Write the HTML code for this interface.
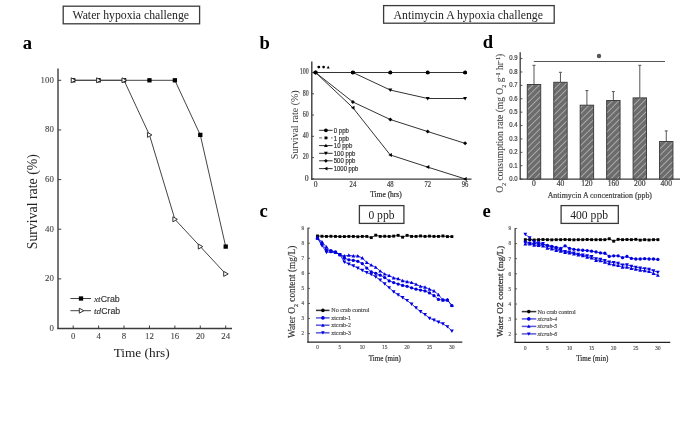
<!DOCTYPE html>
<html><head><meta charset="utf-8"><style>
html,body{margin:0;padding:0;background:#fff;}
body{width:685px;height:426px;overflow:hidden;font-family:"Liberation Serif",serif;}
svg{display:block;will-change:transform;}
</style></head><body>
<svg width="685" height="426" viewBox="0 0 685 426">
<rect width="685" height="426" fill="#fff"/>
<rect x="63.2" y="6.2" width="136.4" height="17.6" fill="#fff" stroke="#3a3a3a" stroke-width="1.3"/>
<text x="72.5" y="18.7" font-family="Liberation Serif" font-size="11.75" font-weight="normal" font-style="normal" text-anchor="start" fill="#222" textLength="116.5" lengthAdjust="spacingAndGlyphs">Water hypoxia challenge</text>
<rect x="383.6" y="5.6" width="170.6" height="17.6" fill="#fff" stroke="#3a3a3a" stroke-width="1.3"/>
<text x="393.5" y="19" font-family="Liberation Serif" font-size="11.75" font-weight="normal" font-style="normal" text-anchor="start" fill="#222" textLength="149.5" lengthAdjust="spacingAndGlyphs">Antimycin A hypoxia challenge</text>
<text x="22.8" y="49" font-family="Liberation Serif" font-size="18.6" font-weight="bold" font-style="normal" text-anchor="start" fill="#000">a</text>
<text x="259.6" y="48.8" font-family="Liberation Serif" font-size="18.6" font-weight="bold" font-style="normal" text-anchor="start" fill="#000">b</text>
<text x="259.6" y="217.3" font-family="Liberation Serif" font-size="18.6" font-weight="bold" font-style="normal" text-anchor="start" fill="#000">c</text>
<text x="482.8" y="48.2" font-family="Liberation Serif" font-size="18.6" font-weight="bold" font-style="normal" text-anchor="start" fill="#000">d</text>
<text x="482.6" y="216.5" font-family="Liberation Serif" font-size="18.6" font-weight="bold" font-style="normal" text-anchor="start" fill="#000">e</text>
<line x1="58" y1="68.5" x2="58" y2="329" stroke="#3c3c3c" stroke-width="1.4"/>
<line x1="57.3" y1="328.5" x2="232" y2="328.5" stroke="#3c3c3c" stroke-width="1.4"/>
<line x1="58" y1="328.5" x2="61.2" y2="328.5" stroke="#3c3c3c" stroke-width="1"/>
<text x="53.8" y="330.8" font-family="Liberation Serif" font-size="8.8" font-weight="normal" font-style="normal" text-anchor="end" fill="#444" stroke="#444" stroke-width="0.1">0</text>
<line x1="58" y1="278.86" x2="61.2" y2="278.86" stroke="#3c3c3c" stroke-width="1"/>
<text x="53.8" y="281.16" font-family="Liberation Serif" font-size="8.8" font-weight="normal" font-style="normal" text-anchor="end" fill="#444" stroke="#444" stroke-width="0.1">20</text>
<line x1="58" y1="229.22" x2="61.2" y2="229.22" stroke="#3c3c3c" stroke-width="1"/>
<text x="53.8" y="231.52" font-family="Liberation Serif" font-size="8.8" font-weight="normal" font-style="normal" text-anchor="end" fill="#444" stroke="#444" stroke-width="0.1">40</text>
<line x1="58" y1="179.58" x2="61.2" y2="179.58" stroke="#3c3c3c" stroke-width="1"/>
<text x="53.8" y="181.88" font-family="Liberation Serif" font-size="8.8" font-weight="normal" font-style="normal" text-anchor="end" fill="#444" stroke="#444" stroke-width="0.1">60</text>
<line x1="58" y1="129.94" x2="61.2" y2="129.94" stroke="#3c3c3c" stroke-width="1"/>
<text x="53.8" y="132.24" font-family="Liberation Serif" font-size="8.8" font-weight="normal" font-style="normal" text-anchor="end" fill="#444" stroke="#444" stroke-width="0.1">80</text>
<line x1="58" y1="80.3" x2="61.2" y2="80.3" stroke="#3c3c3c" stroke-width="1"/>
<text x="53.8" y="82.6" font-family="Liberation Serif" font-size="8.8" font-weight="normal" font-style="normal" text-anchor="end" fill="#444" stroke="#444" stroke-width="0.1">100</text>
<line x1="73.2" y1="328.5" x2="73.2" y2="325.5" stroke="#3c3c3c" stroke-width="1"/>
<text x="73.2" y="339.1" font-family="Liberation Serif" font-size="8.8" font-weight="normal" font-style="normal" text-anchor="middle" fill="#444" stroke="#444" stroke-width="0.1">0</text>
<line x1="98.62" y1="328.5" x2="98.62" y2="325.5" stroke="#3c3c3c" stroke-width="1"/>
<text x="98.62" y="339.1" font-family="Liberation Serif" font-size="8.8" font-weight="normal" font-style="normal" text-anchor="middle" fill="#444" stroke="#444" stroke-width="0.1">4</text>
<line x1="124.03" y1="328.5" x2="124.03" y2="325.5" stroke="#3c3c3c" stroke-width="1"/>
<text x="124.03" y="339.1" font-family="Liberation Serif" font-size="8.8" font-weight="normal" font-style="normal" text-anchor="middle" fill="#444" stroke="#444" stroke-width="0.1">8</text>
<line x1="149.45" y1="328.5" x2="149.45" y2="325.5" stroke="#3c3c3c" stroke-width="1"/>
<text x="149.45" y="339.1" font-family="Liberation Serif" font-size="8.8" font-weight="normal" font-style="normal" text-anchor="middle" fill="#444" stroke="#444" stroke-width="0.1">12</text>
<line x1="174.86" y1="328.5" x2="174.86" y2="325.5" stroke="#3c3c3c" stroke-width="1"/>
<text x="174.86" y="339.1" font-family="Liberation Serif" font-size="8.8" font-weight="normal" font-style="normal" text-anchor="middle" fill="#444" stroke="#444" stroke-width="0.1">16</text>
<line x1="200.28" y1="328.5" x2="200.28" y2="325.5" stroke="#3c3c3c" stroke-width="1"/>
<text x="200.28" y="339.1" font-family="Liberation Serif" font-size="8.8" font-weight="normal" font-style="normal" text-anchor="middle" fill="#444" stroke="#444" stroke-width="0.1">20</text>
<line x1="225.7" y1="328.5" x2="225.7" y2="325.5" stroke="#3c3c3c" stroke-width="1"/>
<text x="225.7" y="339.1" font-family="Liberation Serif" font-size="8.8" font-weight="normal" font-style="normal" text-anchor="middle" fill="#444" stroke="#444" stroke-width="0.1">24</text>
<text x="113.7" y="357" font-family="Liberation Serif" font-size="13.3" font-weight="normal" font-style="normal" text-anchor="start" fill="#222" textLength="56" lengthAdjust="spacingAndGlyphs">Time (hrs)</text>
<text x="0" y="0" font-family="Liberation Serif" font-size="13.8" font-weight="normal" font-style="normal" text-anchor="middle" fill="#222" transform="translate(36.5,201.7) rotate(-90)">Survival rate (%)</text>
<polyline points="73.2,80.3 98.62,80.3 124.03,80.3 149.45,80.3 174.86,80.3 200.28,134.9 225.7,246.59" fill="none" stroke="#444" stroke-width="1" stroke-linejoin="round"/>
<polyline points="73.2,80.3 98.62,80.3 124.03,80.3 149.45,134.9 174.86,219.29 200.28,246.59 225.7,273.9" fill="none" stroke="#444" stroke-width="1" stroke-linejoin="round"/>
<rect x="71.05" y="78.15" width="4.3" height="4.3" fill="#000" stroke="none" stroke-width="1"/>
<rect x="96.47" y="78.15" width="4.3" height="4.3" fill="#000" stroke="none" stroke-width="1"/>
<rect x="121.88" y="78.15" width="4.3" height="4.3" fill="#000" stroke="none" stroke-width="1"/>
<rect x="147.3" y="78.15" width="4.3" height="4.3" fill="#000" stroke="none" stroke-width="1"/>
<rect x="172.71" y="78.15" width="4.3" height="4.3" fill="#000" stroke="none" stroke-width="1"/>
<rect x="198.13" y="132.75" width="4.3" height="4.3" fill="#000" stroke="none" stroke-width="1"/>
<rect x="223.55" y="244.44" width="4.3" height="4.3" fill="#000" stroke="none" stroke-width="1"/>
<polygon points="75.7,80.3 71.2,77.8 71.2,82.8" fill="#fff" stroke="#333" stroke-width="1" stroke-linejoin="miter"/>
<polygon points="101.12,80.3 96.62,77.8 96.62,82.8" fill="#fff" stroke="#333" stroke-width="1" stroke-linejoin="miter"/>
<polygon points="126.53,80.3 122.03,77.8 122.03,82.8" fill="#fff" stroke="#333" stroke-width="1" stroke-linejoin="miter"/>
<polygon points="151.95,134.9 147.45,132.4 147.45,137.4" fill="#fff" stroke="#333" stroke-width="1" stroke-linejoin="miter"/>
<polygon points="177.36,219.29 172.86,216.79 172.86,221.79" fill="#fff" stroke="#333" stroke-width="1" stroke-linejoin="miter"/>
<polygon points="202.78,246.59 198.28,244.09 198.28,249.09" fill="#fff" stroke="#333" stroke-width="1" stroke-linejoin="miter"/>
<polygon points="228.2,273.9 223.7,271.4 223.7,276.4" fill="#fff" stroke="#333" stroke-width="1" stroke-linejoin="miter"/>
<line x1="70.4" y1="298.5" x2="91" y2="298.5" stroke="#444" stroke-width="1"/>
<rect x="78.85" y="296.35" width="4.3" height="4.3" fill="#000" stroke="none" stroke-width="1"/>
<text x="94" y="301.6" font-family="Liberation Sans" font-size="8.8" fill="#333" stroke="#333" stroke-width="0.15"><tspan font-family="Liberation Serif" font-style="italic" font-size="9.2">xt</tspan>Crab</text>
<line x1="70.4" y1="310.7" x2="91" y2="310.7" stroke="#444" stroke-width="1"/>
<polygon points="83.8,310.7 79.3,308.2 79.3,313.2" fill="#fff" stroke="#333" stroke-width="1" stroke-linejoin="miter"/>
<text x="94" y="313.8" font-family="Liberation Sans" font-size="8.8" fill="#333" stroke="#333" stroke-width="0.15"><tspan font-family="Liberation Serif" font-style="italic" font-size="9.2">td</tspan>Crab</text>
<line x1="311.8" y1="61.6" x2="311.8" y2="179.8" stroke="#3c3c3c" stroke-width="1.4"/>
<line x1="311.1" y1="179.2" x2="471.5" y2="179.2" stroke="#3c3c3c" stroke-width="1.2"/>
<line x1="311.8" y1="178.9" x2="314" y2="178.9" stroke="#3c3c3c" stroke-width="0.9"/>
<text x="308.6" y="180.75" font-family="Liberation Serif" font-size="7.7" font-weight="normal" font-style="normal" text-anchor="end" fill="#444" stroke="#444" stroke-width="0.22">0</text>
<line x1="311.8" y1="157.62" x2="314" y2="157.62" stroke="#3c3c3c" stroke-width="0.9"/>
<text x="308.6" y="159.47" font-family="Liberation Serif" font-size="7.7" font-weight="normal" font-style="normal" text-anchor="end" fill="#444" stroke="#444" stroke-width="0.22" textLength="5.94" lengthAdjust="spacingAndGlyphs">20</text>
<line x1="311.8" y1="136.34" x2="314" y2="136.34" stroke="#3c3c3c" stroke-width="0.9"/>
<text x="308.6" y="138.19" font-family="Liberation Serif" font-size="7.7" font-weight="normal" font-style="normal" text-anchor="end" fill="#444" stroke="#444" stroke-width="0.22" textLength="5.94" lengthAdjust="spacingAndGlyphs">40</text>
<line x1="311.8" y1="115.06" x2="314" y2="115.06" stroke="#3c3c3c" stroke-width="0.9"/>
<text x="308.6" y="116.91" font-family="Liberation Serif" font-size="7.7" font-weight="normal" font-style="normal" text-anchor="end" fill="#444" stroke="#444" stroke-width="0.22" textLength="5.94" lengthAdjust="spacingAndGlyphs">60</text>
<line x1="311.8" y1="93.78" x2="314" y2="93.78" stroke="#3c3c3c" stroke-width="0.9"/>
<text x="308.6" y="95.63" font-family="Liberation Serif" font-size="7.7" font-weight="normal" font-style="normal" text-anchor="end" fill="#444" stroke="#444" stroke-width="0.22" textLength="5.94" lengthAdjust="spacingAndGlyphs">80</text>
<line x1="311.8" y1="72.5" x2="314" y2="72.5" stroke="#3c3c3c" stroke-width="0.9"/>
<text x="308.6" y="74.35" font-family="Liberation Serif" font-size="7.7" font-weight="normal" font-style="normal" text-anchor="end" fill="#444" stroke="#444" stroke-width="0.22" textLength="8.91" lengthAdjust="spacingAndGlyphs">100</text>
<text x="315.5" y="186.7" font-family="Liberation Serif" font-size="7.5" font-weight="normal" font-style="normal" text-anchor="middle" fill="#444" stroke="#444" stroke-width="0.22">0</text>
<text x="352.9" y="186.7" font-family="Liberation Serif" font-size="7.5" font-weight="normal" font-style="normal" text-anchor="middle" fill="#444" stroke="#444" stroke-width="0.22" textLength="6.6" lengthAdjust="spacingAndGlyphs">24</text>
<text x="390.3" y="186.7" font-family="Liberation Serif" font-size="7.5" font-weight="normal" font-style="normal" text-anchor="middle" fill="#444" stroke="#444" stroke-width="0.22" textLength="6.6" lengthAdjust="spacingAndGlyphs">48</text>
<text x="427.7" y="186.7" font-family="Liberation Serif" font-size="7.5" font-weight="normal" font-style="normal" text-anchor="middle" fill="#444" stroke="#444" stroke-width="0.22" textLength="6.6" lengthAdjust="spacingAndGlyphs">72</text>
<text x="465.1" y="186.7" font-family="Liberation Serif" font-size="7.5" font-weight="normal" font-style="normal" text-anchor="middle" fill="#444" stroke="#444" stroke-width="0.22" textLength="6.6" lengthAdjust="spacingAndGlyphs">96</text>
<text x="370.2" y="196.8" font-family="Liberation Serif" font-size="7.5" font-weight="normal" font-style="normal" text-anchor="start" fill="#333" stroke="#333" stroke-width="0.22">Time (hrs)</text>
<text x="0" y="0" font-family="Liberation Serif" font-size="10" font-weight="normal" font-style="normal" text-anchor="middle" fill="#333" transform="translate(297.6,124.8) rotate(-90)">Survival rate (%)</text>
<line x1="315.5" y1="72.5" x2="352.9" y2="72.5" stroke="#333" stroke-width="1" stroke-linecap="round"/>
<line x1="352.9" y1="72.5" x2="390.3" y2="72.5" stroke="#333" stroke-width="1" stroke-linecap="round"/>
<line x1="390.3" y1="72.5" x2="427.7" y2="72.5" stroke="#333" stroke-width="1" stroke-linecap="round"/>
<line x1="427.7" y1="72.5" x2="465.1" y2="72.5" stroke="#333" stroke-width="1" stroke-linecap="round"/>
<line x1="352.9" y1="72.5" x2="390.3" y2="90.06" stroke="#333" stroke-width="1" stroke-linecap="round"/>
<line x1="390.3" y1="90.06" x2="427.7" y2="98.5" stroke="#333" stroke-width="1" stroke-linecap="round"/>
<line x1="427.7" y1="98.5" x2="465.1" y2="98.5" stroke="#333" stroke-width="1" stroke-linecap="round"/>
<line x1="315.5" y1="72.5" x2="352.9" y2="101.97" stroke="#333" stroke-width="1" stroke-linecap="round"/>
<line x1="352.9" y1="101.97" x2="390.3" y2="119.53" stroke="#333" stroke-width="1" stroke-linecap="round"/>
<line x1="390.3" y1="119.53" x2="427.7" y2="131.55" stroke="#333" stroke-width="1" stroke-linecap="round"/>
<line x1="427.7" y1="131.55" x2="465.1" y2="143.36" stroke="#333" stroke-width="1" stroke-linecap="round"/>
<line x1="315.5" y1="72.5" x2="352.9" y2="107.72" stroke="#333" stroke-width="1" stroke-linecap="round"/>
<line x1="352.9" y1="107.72" x2="390.3" y2="154.96" stroke="#333" stroke-width="1" stroke-linecap="round"/>
<line x1="390.3" y1="154.96" x2="427.7" y2="167.09" stroke="#333" stroke-width="1" stroke-linecap="round"/>
<line x1="427.7" y1="167.09" x2="465.1" y2="178.9" stroke="#333" stroke-width="1" stroke-linecap="round"/>
<circle cx="315.5" cy="72.5" r="1.95" fill="#000" stroke="none" stroke-width="1"/>
<circle cx="352.9" cy="72.5" r="1.95" fill="#000" stroke="none" stroke-width="1"/>
<circle cx="390.3" cy="72.5" r="1.95" fill="#000" stroke="none" stroke-width="1"/>
<circle cx="427.7" cy="72.5" r="1.95" fill="#000" stroke="none" stroke-width="1"/>
<circle cx="465.1" cy="72.5" r="1.95" fill="#000" stroke="none" stroke-width="1"/>
<rect x="314.2" y="71.2" width="2.6" height="2.6" fill="#000" stroke="none" stroke-width="1"/>
<rect x="351.6" y="71.2" width="2.6" height="2.6" fill="#000" stroke="none" stroke-width="1"/>
<rect x="389" y="71.2" width="2.6" height="2.6" fill="#000" stroke="none" stroke-width="1"/>
<rect x="426.4" y="71.2" width="2.6" height="2.6" fill="#000" stroke="none" stroke-width="1"/>
<rect x="463.8" y="71.2" width="2.6" height="2.6" fill="#000" stroke="none" stroke-width="1"/>
<polygon points="315.5,70.5 317.5,74.1 313.5,74.1" fill="#000" stroke="none" stroke-width="1" stroke-linejoin="miter"/>
<polygon points="352.9,70.5 354.9,74.1 350.9,74.1" fill="#000" stroke="none" stroke-width="1" stroke-linejoin="miter"/>
<polygon points="390.3,70.5 392.3,74.1 388.3,74.1" fill="#000" stroke="none" stroke-width="1" stroke-linejoin="miter"/>
<polygon points="427.7,70.5 429.7,74.1 425.7,74.1" fill="#000" stroke="none" stroke-width="1" stroke-linejoin="miter"/>
<polygon points="465.1,70.5 467.1,74.1 463.1,74.1" fill="#000" stroke="none" stroke-width="1" stroke-linejoin="miter"/>
<polygon points="315.5,74.5 317.5,70.9 313.5,70.9" fill="#000" stroke="none" stroke-width="1" stroke-linejoin="miter"/>
<polygon points="352.9,74.5 354.9,70.9 350.9,70.9" fill="#000" stroke="none" stroke-width="1" stroke-linejoin="miter"/>
<polygon points="390.3,92.06 392.3,88.46 388.3,88.46" fill="#000" stroke="none" stroke-width="1" stroke-linejoin="miter"/>
<polygon points="427.7,100.5 429.7,96.9 425.7,96.9" fill="#000" stroke="none" stroke-width="1" stroke-linejoin="miter"/>
<polygon points="465.1,100.5 467.1,96.9 463.1,96.9" fill="#000" stroke="none" stroke-width="1" stroke-linejoin="miter"/>
<polygon points="315.5,70.5 317.5,72.5 315.5,74.5 313.5,72.5" fill="#000" stroke="none" stroke-width="1" stroke-linejoin="miter"/>
<polygon points="352.9,99.97 354.9,101.97 352.9,103.97 350.9,101.97" fill="#000" stroke="none" stroke-width="1" stroke-linejoin="miter"/>
<polygon points="390.3,117.53 392.3,119.53 390.3,121.53 388.3,119.53" fill="#000" stroke="none" stroke-width="1" stroke-linejoin="miter"/>
<polygon points="427.7,129.55 429.7,131.55 427.7,133.55 425.7,131.55" fill="#000" stroke="none" stroke-width="1" stroke-linejoin="miter"/>
<polygon points="465.1,141.36 467.1,143.36 465.1,145.36 463.1,143.36" fill="#000" stroke="none" stroke-width="1" stroke-linejoin="miter"/>
<polygon points="313.5,72.5 317.1,70.5 317.1,74.5" fill="#000" stroke="none" stroke-width="1" stroke-linejoin="miter"/>
<polygon points="350.9,107.72 354.5,105.72 354.5,109.72" fill="#000" stroke="none" stroke-width="1" stroke-linejoin="miter"/>
<polygon points="388.3,154.96 391.9,152.96 391.9,156.96" fill="#000" stroke="none" stroke-width="1" stroke-linejoin="miter"/>
<polygon points="425.7,167.09 429.3,165.09 429.3,169.09" fill="#000" stroke="none" stroke-width="1" stroke-linejoin="miter"/>
<polygon points="463.1,178.9 466.7,176.9 466.7,180.9" fill="#000" stroke="none" stroke-width="1" stroke-linejoin="miter"/>
<circle cx="318.8" cy="67.1" r="1.45" fill="#000" stroke="none" stroke-width="1"/>
<circle cx="323.6" cy="67.1" r="1.35" fill="#000" stroke="none" stroke-width="1"/>
<polygon points="328.2,65.7 329.7,68.4 326.7,68.4" fill="#000" stroke="none" stroke-width="1" stroke-linejoin="miter"/>
<line x1="319.1" y1="130.3" x2="332.6" y2="130.3" stroke="#333" stroke-width="1"/>
<circle cx="325.9" cy="130.3" r="1.9" fill="#000" stroke="none" stroke-width="1"/>
<text x="333.8" y="132.9" font-family="Liberation Sans" font-size="7.3" font-weight="normal" font-style="normal" text-anchor="start" fill="#333" stroke="#333" stroke-width="0.22" textLength="15.2" lengthAdjust="spacingAndGlyphs">0 ppb</text>
<line x1="319.1" y1="137.9" x2="332.6" y2="137.9" stroke="#444" stroke-width="0.8" stroke-dasharray="3,3"/>
<rect x="324.5" y="136.5" width="2.8" height="2.8" fill="#000" stroke="none" stroke-width="1"/>
<text x="333.8" y="140.5" font-family="Liberation Sans" font-size="7.3" font-weight="normal" font-style="normal" text-anchor="start" fill="#333" stroke="#333" stroke-width="0.22" textLength="15.2" lengthAdjust="spacingAndGlyphs">1 ppb</text>
<line x1="319.1" y1="145.6" x2="332.6" y2="145.6" stroke="#333" stroke-width="1"/>
<polygon points="325.9,143.7 327.8,147.12 324,147.12" fill="#000" stroke="none" stroke-width="1" stroke-linejoin="miter"/>
<text x="333.8" y="148.2" font-family="Liberation Sans" font-size="7.3" font-weight="normal" font-style="normal" text-anchor="start" fill="#333" stroke="#333" stroke-width="0.22" textLength="18.5" lengthAdjust="spacingAndGlyphs">10 ppb</text>
<line x1="319.1" y1="153.3" x2="332.6" y2="153.3" stroke="#333" stroke-width="1"/>
<polygon points="325.9,155.2 327.8,151.78 324,151.78" fill="#000" stroke="none" stroke-width="1" stroke-linejoin="miter"/>
<text x="333.8" y="155.9" font-family="Liberation Sans" font-size="7.3" font-weight="normal" font-style="normal" text-anchor="start" fill="#333" stroke="#333" stroke-width="0.22" textLength="21.6" lengthAdjust="spacingAndGlyphs">100 ppb</text>
<line x1="319.1" y1="160.8" x2="332.6" y2="160.8" stroke="#333" stroke-width="1"/>
<polygon points="325.9,158.9 327.8,160.8 325.9,162.7 324,160.8" fill="#000" stroke="none" stroke-width="1" stroke-linejoin="miter"/>
<text x="333.8" y="163.4" font-family="Liberation Sans" font-size="7.3" font-weight="normal" font-style="normal" text-anchor="start" fill="#333" stroke="#333" stroke-width="0.22" textLength="21.6" lengthAdjust="spacingAndGlyphs">500 ppb</text>
<line x1="319.1" y1="168.6" x2="332.6" y2="168.6" stroke="#333" stroke-width="1"/>
<polygon points="324,168.6 327.42,166.7 327.42,170.5" fill="#000" stroke="none" stroke-width="1" stroke-linejoin="miter"/>
<text x="333.8" y="171.2" font-family="Liberation Sans" font-size="7.3" font-weight="normal" font-style="normal" text-anchor="start" fill="#333" stroke="#333" stroke-width="0.22" textLength="24.6" lengthAdjust="spacingAndGlyphs">1000 ppb</text>
<line x1="520.2" y1="52.2" x2="520.2" y2="179.6" stroke="#3c3c3c" stroke-width="1.3"/>
<line x1="519.6" y1="179.1" x2="680" y2="179.1" stroke="#3c3c3c" stroke-width="1.3"/>
<line x1="520.2" y1="179.1" x2="522.4" y2="179.1" stroke="#3c3c3c" stroke-width="0.9"/>
<text x="517.6" y="181" font-family="Liberation Sans" font-size="7" font-weight="normal" font-style="normal" text-anchor="end" fill="#444" stroke="#444" stroke-width="0.22" textLength="8.3" lengthAdjust="spacingAndGlyphs">0.0</text>
<line x1="520.2" y1="165.71" x2="522.4" y2="165.71" stroke="#3c3c3c" stroke-width="0.9"/>
<text x="517.6" y="167.61" font-family="Liberation Sans" font-size="7" font-weight="normal" font-style="normal" text-anchor="end" fill="#444" stroke="#444" stroke-width="0.22" textLength="8.3" lengthAdjust="spacingAndGlyphs">0.1</text>
<line x1="520.2" y1="152.32" x2="522.4" y2="152.32" stroke="#3c3c3c" stroke-width="0.9"/>
<text x="517.6" y="154.22" font-family="Liberation Sans" font-size="7" font-weight="normal" font-style="normal" text-anchor="end" fill="#444" stroke="#444" stroke-width="0.22" textLength="8.3" lengthAdjust="spacingAndGlyphs">0.2</text>
<line x1="520.2" y1="138.93" x2="522.4" y2="138.93" stroke="#3c3c3c" stroke-width="0.9"/>
<text x="517.6" y="140.83" font-family="Liberation Sans" font-size="7" font-weight="normal" font-style="normal" text-anchor="end" fill="#444" stroke="#444" stroke-width="0.22" textLength="8.3" lengthAdjust="spacingAndGlyphs">0.3</text>
<line x1="520.2" y1="125.54" x2="522.4" y2="125.54" stroke="#3c3c3c" stroke-width="0.9"/>
<text x="517.6" y="127.44" font-family="Liberation Sans" font-size="7" font-weight="normal" font-style="normal" text-anchor="end" fill="#444" stroke="#444" stroke-width="0.22" textLength="8.3" lengthAdjust="spacingAndGlyphs">0.4</text>
<line x1="520.2" y1="112.15" x2="522.4" y2="112.15" stroke="#3c3c3c" stroke-width="0.9"/>
<text x="517.6" y="114.05" font-family="Liberation Sans" font-size="7" font-weight="normal" font-style="normal" text-anchor="end" fill="#444" stroke="#444" stroke-width="0.22" textLength="8.3" lengthAdjust="spacingAndGlyphs">0.5</text>
<line x1="520.2" y1="98.76" x2="522.4" y2="98.76" stroke="#3c3c3c" stroke-width="0.9"/>
<text x="517.6" y="100.66" font-family="Liberation Sans" font-size="7" font-weight="normal" font-style="normal" text-anchor="end" fill="#444" stroke="#444" stroke-width="0.22" textLength="8.3" lengthAdjust="spacingAndGlyphs">0.6</text>
<line x1="520.2" y1="85.37" x2="522.4" y2="85.37" stroke="#3c3c3c" stroke-width="0.9"/>
<text x="517.6" y="87.27" font-family="Liberation Sans" font-size="7" font-weight="normal" font-style="normal" text-anchor="end" fill="#444" stroke="#444" stroke-width="0.22" textLength="8.3" lengthAdjust="spacingAndGlyphs">0.7</text>
<line x1="520.2" y1="71.98" x2="522.4" y2="71.98" stroke="#3c3c3c" stroke-width="0.9"/>
<text x="517.6" y="73.88" font-family="Liberation Sans" font-size="7" font-weight="normal" font-style="normal" text-anchor="end" fill="#444" stroke="#444" stroke-width="0.22" textLength="8.3" lengthAdjust="spacingAndGlyphs">0.8</text>
<line x1="520.2" y1="58.59" x2="522.4" y2="58.59" stroke="#3c3c3c" stroke-width="0.9"/>
<text x="517.6" y="60.49" font-family="Liberation Sans" font-size="7" font-weight="normal" font-style="normal" text-anchor="end" fill="#444" stroke="#444" stroke-width="0.22" textLength="8.3" lengthAdjust="spacingAndGlyphs">0.9</text>
<defs><pattern id="hatch" patternUnits="userSpaceOnUse" width="4.5" height="4.5" patternTransform="rotate(45)"><rect width="4.5" height="4.5" fill="#6c6c6c"/><line x1="0" y1="0" x2="0" y2="4.5" stroke="#dcdcdc" stroke-width="1.05"/></pattern></defs>
<line x1="534" y1="84.5" x2="534" y2="65.3" stroke="#555" stroke-width="1"/>
<line x1="532.5" y1="65.3" x2="535.5" y2="65.3" stroke="#555" stroke-width="1"/>
<rect x="527.3" y="84.5" width="13.4" height="94.6" fill="url(#hatch)" stroke="#404040" stroke-width="1"/>
<text x="534" y="186.4" font-family="Liberation Serif" font-size="7.6" font-weight="normal" font-style="normal" text-anchor="middle" fill="#444" stroke="#444" stroke-width="0.22">0</text>
<line x1="560.45" y1="82.3" x2="560.45" y2="72.3" stroke="#555" stroke-width="1"/>
<line x1="558.95" y1="72.3" x2="561.95" y2="72.3" stroke="#555" stroke-width="1"/>
<rect x="553.75" y="82.3" width="13.4" height="96.8" fill="url(#hatch)" stroke="#404040" stroke-width="1"/>
<text x="560.45" y="186.4" font-family="Liberation Serif" font-size="7.6" font-weight="normal" font-style="normal" text-anchor="middle" fill="#444" stroke="#444" stroke-width="0.22">40</text>
<line x1="586.9" y1="105.2" x2="586.9" y2="90.6" stroke="#555" stroke-width="1"/>
<line x1="585.4" y1="90.6" x2="588.4" y2="90.6" stroke="#555" stroke-width="1"/>
<rect x="580.2" y="105.2" width="13.4" height="73.9" fill="url(#hatch)" stroke="#404040" stroke-width="1"/>
<text x="586.9" y="186.4" font-family="Liberation Serif" font-size="7.6" font-weight="normal" font-style="normal" text-anchor="middle" fill="#444" stroke="#444" stroke-width="0.22">120</text>
<line x1="613.35" y1="100.5" x2="613.35" y2="91.6" stroke="#555" stroke-width="1"/>
<line x1="611.85" y1="91.6" x2="614.85" y2="91.6" stroke="#555" stroke-width="1"/>
<rect x="606.65" y="100.5" width="13.4" height="78.6" fill="url(#hatch)" stroke="#404040" stroke-width="1"/>
<text x="613.35" y="186.4" font-family="Liberation Serif" font-size="7.6" font-weight="normal" font-style="normal" text-anchor="middle" fill="#444" stroke="#444" stroke-width="0.22">160</text>
<line x1="639.8" y1="97.9" x2="639.8" y2="65.3" stroke="#555" stroke-width="1"/>
<line x1="638.3" y1="65.3" x2="641.3" y2="65.3" stroke="#555" stroke-width="1"/>
<rect x="633.1" y="97.9" width="13.4" height="81.2" fill="url(#hatch)" stroke="#404040" stroke-width="1"/>
<text x="639.8" y="186.4" font-family="Liberation Serif" font-size="7.6" font-weight="normal" font-style="normal" text-anchor="middle" fill="#444" stroke="#444" stroke-width="0.22">200</text>
<line x1="666.25" y1="141.5" x2="666.25" y2="130.9" stroke="#555" stroke-width="1"/>
<line x1="664.75" y1="130.9" x2="667.75" y2="130.9" stroke="#555" stroke-width="1"/>
<rect x="659.55" y="141.5" width="13.4" height="37.6" fill="url(#hatch)" stroke="#404040" stroke-width="1"/>
<text x="666.25" y="186.4" font-family="Liberation Serif" font-size="7.6" font-weight="normal" font-style="normal" text-anchor="middle" fill="#444" stroke="#444" stroke-width="0.22">400</text>
<line x1="533.8" y1="61.5" x2="665" y2="61.5" stroke="#555" stroke-width="1"/>
<circle cx="599" cy="56" r="2.2" fill="#555" stroke="none" stroke-width="1"/>
<text x="547.7" y="198.2" font-family="Liberation Serif" font-size="7.9" font-weight="normal" font-style="normal" text-anchor="start" fill="#444" stroke="#444" stroke-width="0.22" textLength="104.3" lengthAdjust="spacingAndGlyphs">Antimycin A concentration (ppb)</text>
<text transform="translate(503.2,123.3) rotate(-90)" font-family="Liberation Serif" font-size="9.5" fill="#444" stroke="#444" stroke-width="0.1" text-anchor="middle">O<tspan font-size="6.2" dy="2.8">2</tspan><tspan dy="-2.8"> consumption rate (mg O</tspan><tspan font-size="6.2" dy="2.8">2</tspan><tspan dy="-2.8"> g</tspan><tspan font-size="6.2" dy="-3.4">-1</tspan><tspan dy="3.4"> hr</tspan><tspan font-size="6.2" dy="-3.4">-1</tspan><tspan dy="3.4">)</tspan></text>
<line x1="308" y1="227.8" x2="308" y2="342.7" stroke="#333" stroke-width="1.2"/>
<line x1="307.4" y1="342.2" x2="462.3" y2="342.2" stroke="#222" stroke-width="1.2"/>
<line x1="308" y1="333.62" x2="310" y2="333.62" stroke="#3c3c3c" stroke-width="0.8"/>
<text x="304" y="335.42" font-family="Liberation Serif" font-size="5.2" font-weight="normal" font-style="normal" text-anchor="end" fill="#666" stroke="#666" stroke-width="0.22">2</text>
<line x1="308" y1="318.55" x2="310" y2="318.55" stroke="#3c3c3c" stroke-width="0.8"/>
<text x="304" y="320.35" font-family="Liberation Serif" font-size="5.2" font-weight="normal" font-style="normal" text-anchor="end" fill="#666" stroke="#666" stroke-width="0.22">3</text>
<line x1="308" y1="303.48" x2="310" y2="303.48" stroke="#3c3c3c" stroke-width="0.8"/>
<text x="304" y="305.28" font-family="Liberation Serif" font-size="5.2" font-weight="normal" font-style="normal" text-anchor="end" fill="#666" stroke="#666" stroke-width="0.22">4</text>
<line x1="308" y1="288.41" x2="310" y2="288.41" stroke="#3c3c3c" stroke-width="0.8"/>
<text x="304" y="290.21" font-family="Liberation Serif" font-size="5.2" font-weight="normal" font-style="normal" text-anchor="end" fill="#666" stroke="#666" stroke-width="0.22">5</text>
<line x1="308" y1="273.34" x2="310" y2="273.34" stroke="#3c3c3c" stroke-width="0.8"/>
<text x="304" y="275.14" font-family="Liberation Serif" font-size="5.2" font-weight="normal" font-style="normal" text-anchor="end" fill="#666" stroke="#666" stroke-width="0.22">6</text>
<line x1="308" y1="258.27" x2="310" y2="258.27" stroke="#3c3c3c" stroke-width="0.8"/>
<text x="304" y="260.07" font-family="Liberation Serif" font-size="5.2" font-weight="normal" font-style="normal" text-anchor="end" fill="#666" stroke="#666" stroke-width="0.22">7</text>
<line x1="308" y1="243.2" x2="310" y2="243.2" stroke="#3c3c3c" stroke-width="0.8"/>
<text x="304" y="245" font-family="Liberation Serif" font-size="5.2" font-weight="normal" font-style="normal" text-anchor="end" fill="#666" stroke="#666" stroke-width="0.22">8</text>
<line x1="308" y1="228.13" x2="310" y2="228.13" stroke="#3c3c3c" stroke-width="0.8"/>
<text x="304" y="229.93" font-family="Liberation Serif" font-size="5.2" font-weight="normal" font-style="normal" text-anchor="end" fill="#666" stroke="#666" stroke-width="0.22">9</text>
<text x="317.5" y="349.4" font-family="Liberation Serif" font-size="5.2" font-weight="normal" font-style="normal" text-anchor="middle" fill="#666" stroke="#666" stroke-width="0.22">0</text>
<text x="339.9" y="349.4" font-family="Liberation Serif" font-size="5.2" font-weight="normal" font-style="normal" text-anchor="middle" fill="#666" stroke="#666" stroke-width="0.22">5</text>
<text x="362.3" y="349.4" font-family="Liberation Serif" font-size="5.2" font-weight="normal" font-style="normal" text-anchor="middle" fill="#666" stroke="#666" stroke-width="0.22">10</text>
<text x="384.7" y="349.4" font-family="Liberation Serif" font-size="5.2" font-weight="normal" font-style="normal" text-anchor="middle" fill="#666" stroke="#666" stroke-width="0.22">15</text>
<text x="407.1" y="349.4" font-family="Liberation Serif" font-size="5.2" font-weight="normal" font-style="normal" text-anchor="middle" fill="#666" stroke="#666" stroke-width="0.22">20</text>
<text x="429.5" y="349.4" font-family="Liberation Serif" font-size="5.2" font-weight="normal" font-style="normal" text-anchor="middle" fill="#666" stroke="#666" stroke-width="0.22">25</text>
<text x="451.9" y="349.4" font-family="Liberation Serif" font-size="5.2" font-weight="normal" font-style="normal" text-anchor="middle" fill="#666" stroke="#666" stroke-width="0.22">30</text>
<text x="368.8" y="360.6" font-family="Liberation Serif" font-size="7.6" font-weight="normal" font-style="normal" text-anchor="start" fill="#333" stroke="#333" stroke-width="0.22" textLength="32.1" lengthAdjust="spacingAndGlyphs">Time (min)</text>
<polyline points="317.5,235.97 321.98,236.27 326.46,236.42 330.94,236.27 335.42,236.42 339.9,236.57 344.38,236.57 348.86,236.42 353.34,236.42 357.82,236.72 362.3,236.42 366.78,236.42 371.26,237.62 375.74,235.21 380.22,236.42 384.7,236.27 389.18,236.42 393.66,236.12 398.14,235.36 402.62,237.17 407.1,235.36 411.58,236.42 416.06,236.42 420.54,235.97 425.02,236.42 429.5,236.12 433.98,236.42 438.46,236.42 442.94,235.97 447.42,236.57 451.9,236.57" fill="none" stroke="#000" stroke-width="0.8" stroke-linejoin="round"/>
<polyline points="317.5,238.23 321.98,243.95 326.46,249.98 330.94,250.73 335.42,252.24 339.9,254.65 344.38,258.27 348.86,259.78 353.34,260.38 357.82,261.28 362.3,263.54 366.78,268.07 371.26,271.83 375.74,273.34 380.22,275.15 384.7,277.56 389.18,280.88 393.66,282.53 398.14,284.04 402.62,285.4 407.1,286.3 411.58,287.81 416.06,289.16 420.54,290.07 425.02,290.97 429.5,292.93 433.98,295.64 438.46,299.41 442.94,300.01 447.42,300.01 451.9,305.59" fill="none" stroke="#0000e0" stroke-width="0.8" stroke-linejoin="round"/>
<polyline points="317.5,238.23 321.98,241.84 326.46,246.97 330.94,251.49 335.42,252.24 339.9,254.65 344.38,256.01 348.86,255.26 353.34,256.01 357.82,256.01 362.3,257.97 366.78,262.49 371.26,265.05 375.74,267.31 380.22,271.08 384.7,274.09 389.18,275.6 393.66,277.86 398.14,278.77 402.62,280.72 407.1,281.63 411.58,282.53 416.06,284.34 420.54,286.3 425.02,287.2 429.5,289.16 433.98,290.97 438.46,294.74 442.94,300.01 447.42,300.01 451.9,305.59" fill="none" stroke="#0000e0" stroke-width="0.8" stroke-linejoin="round"/>
<polyline points="317.5,238.23 321.98,245.61 326.46,252.24 330.94,251.94 335.42,252.24 339.9,254.65 344.38,262.04 348.86,264 353.34,265.81 357.82,268.07 362.3,270.33 366.78,272.59 371.26,274.39 375.74,276.81 380.22,280.12 384.7,283.89 389.18,287.66 393.66,291.88 398.14,294.74 402.62,297.6 407.1,300.47 411.58,304.08 416.06,307.85 420.54,311.62 425.02,314.48 429.5,318.25 433.98,320.06 438.46,322.02 442.94,323.82 447.42,326.69 451.9,331.06" fill="none" stroke="#0000e0" stroke-width="0.8" stroke-linejoin="round"/>
<rect x="316.05" y="234.52" width="2.9" height="2.9" fill="#000" stroke="none" stroke-width="1"/>
<rect x="320.53" y="234.82" width="2.9" height="2.9" fill="#000" stroke="none" stroke-width="1"/>
<rect x="325.01" y="234.97" width="2.9" height="2.9" fill="#000" stroke="none" stroke-width="1"/>
<rect x="329.49" y="234.82" width="2.9" height="2.9" fill="#000" stroke="none" stroke-width="1"/>
<rect x="333.97" y="234.97" width="2.9" height="2.9" fill="#000" stroke="none" stroke-width="1"/>
<rect x="338.45" y="235.12" width="2.9" height="2.9" fill="#000" stroke="none" stroke-width="1"/>
<rect x="342.93" y="235.12" width="2.9" height="2.9" fill="#000" stroke="none" stroke-width="1"/>
<rect x="347.41" y="234.97" width="2.9" height="2.9" fill="#000" stroke="none" stroke-width="1"/>
<rect x="351.89" y="234.97" width="2.9" height="2.9" fill="#000" stroke="none" stroke-width="1"/>
<rect x="356.37" y="235.27" width="2.9" height="2.9" fill="#000" stroke="none" stroke-width="1"/>
<rect x="360.85" y="234.97" width="2.9" height="2.9" fill="#000" stroke="none" stroke-width="1"/>
<rect x="365.33" y="234.97" width="2.9" height="2.9" fill="#000" stroke="none" stroke-width="1"/>
<rect x="369.81" y="236.17" width="2.9" height="2.9" fill="#000" stroke="none" stroke-width="1"/>
<rect x="374.29" y="233.76" width="2.9" height="2.9" fill="#000" stroke="none" stroke-width="1"/>
<rect x="378.77" y="234.97" width="2.9" height="2.9" fill="#000" stroke="none" stroke-width="1"/>
<rect x="383.25" y="234.82" width="2.9" height="2.9" fill="#000" stroke="none" stroke-width="1"/>
<rect x="387.73" y="234.97" width="2.9" height="2.9" fill="#000" stroke="none" stroke-width="1"/>
<rect x="392.21" y="234.67" width="2.9" height="2.9" fill="#000" stroke="none" stroke-width="1"/>
<rect x="396.69" y="233.91" width="2.9" height="2.9" fill="#000" stroke="none" stroke-width="1"/>
<rect x="401.17" y="235.72" width="2.9" height="2.9" fill="#000" stroke="none" stroke-width="1"/>
<rect x="405.65" y="233.91" width="2.9" height="2.9" fill="#000" stroke="none" stroke-width="1"/>
<rect x="410.13" y="234.97" width="2.9" height="2.9" fill="#000" stroke="none" stroke-width="1"/>
<rect x="414.61" y="234.97" width="2.9" height="2.9" fill="#000" stroke="none" stroke-width="1"/>
<rect x="419.09" y="234.52" width="2.9" height="2.9" fill="#000" stroke="none" stroke-width="1"/>
<rect x="423.57" y="234.97" width="2.9" height="2.9" fill="#000" stroke="none" stroke-width="1"/>
<rect x="428.05" y="234.67" width="2.9" height="2.9" fill="#000" stroke="none" stroke-width="1"/>
<rect x="432.53" y="234.97" width="2.9" height="2.9" fill="#000" stroke="none" stroke-width="1"/>
<rect x="437.01" y="234.97" width="2.9" height="2.9" fill="#000" stroke="none" stroke-width="1"/>
<rect x="441.49" y="234.52" width="2.9" height="2.9" fill="#000" stroke="none" stroke-width="1"/>
<rect x="445.97" y="235.12" width="2.9" height="2.9" fill="#000" stroke="none" stroke-width="1"/>
<rect x="450.45" y="235.12" width="2.9" height="2.9" fill="#000" stroke="none" stroke-width="1"/>
<circle cx="317.5" cy="238.23" r="1.65" fill="#0000e0" stroke="none" stroke-width="1"/>
<circle cx="321.98" cy="243.95" r="1.65" fill="#0000e0" stroke="none" stroke-width="1"/>
<circle cx="326.46" cy="249.98" r="1.65" fill="#0000e0" stroke="none" stroke-width="1"/>
<circle cx="330.94" cy="250.73" r="1.65" fill="#0000e0" stroke="none" stroke-width="1"/>
<circle cx="335.42" cy="252.24" r="1.65" fill="#0000e0" stroke="none" stroke-width="1"/>
<circle cx="339.9" cy="254.65" r="1.65" fill="#0000e0" stroke="none" stroke-width="1"/>
<circle cx="344.38" cy="258.27" r="1.65" fill="#0000e0" stroke="none" stroke-width="1"/>
<circle cx="348.86" cy="259.78" r="1.65" fill="#0000e0" stroke="none" stroke-width="1"/>
<circle cx="353.34" cy="260.38" r="1.65" fill="#0000e0" stroke="none" stroke-width="1"/>
<circle cx="357.82" cy="261.28" r="1.65" fill="#0000e0" stroke="none" stroke-width="1"/>
<circle cx="362.3" cy="263.54" r="1.65" fill="#0000e0" stroke="none" stroke-width="1"/>
<circle cx="366.78" cy="268.07" r="1.65" fill="#0000e0" stroke="none" stroke-width="1"/>
<circle cx="371.26" cy="271.83" r="1.65" fill="#0000e0" stroke="none" stroke-width="1"/>
<circle cx="375.74" cy="273.34" r="1.65" fill="#0000e0" stroke="none" stroke-width="1"/>
<circle cx="380.22" cy="275.15" r="1.65" fill="#0000e0" stroke="none" stroke-width="1"/>
<circle cx="384.7" cy="277.56" r="1.65" fill="#0000e0" stroke="none" stroke-width="1"/>
<circle cx="389.18" cy="280.88" r="1.65" fill="#0000e0" stroke="none" stroke-width="1"/>
<circle cx="393.66" cy="282.53" r="1.65" fill="#0000e0" stroke="none" stroke-width="1"/>
<circle cx="398.14" cy="284.04" r="1.65" fill="#0000e0" stroke="none" stroke-width="1"/>
<circle cx="402.62" cy="285.4" r="1.65" fill="#0000e0" stroke="none" stroke-width="1"/>
<circle cx="407.1" cy="286.3" r="1.65" fill="#0000e0" stroke="none" stroke-width="1"/>
<circle cx="411.58" cy="287.81" r="1.65" fill="#0000e0" stroke="none" stroke-width="1"/>
<circle cx="416.06" cy="289.16" r="1.65" fill="#0000e0" stroke="none" stroke-width="1"/>
<circle cx="420.54" cy="290.07" r="1.65" fill="#0000e0" stroke="none" stroke-width="1"/>
<circle cx="425.02" cy="290.97" r="1.65" fill="#0000e0" stroke="none" stroke-width="1"/>
<circle cx="429.5" cy="292.93" r="1.65" fill="#0000e0" stroke="none" stroke-width="1"/>
<circle cx="433.98" cy="295.64" r="1.65" fill="#0000e0" stroke="none" stroke-width="1"/>
<circle cx="438.46" cy="299.41" r="1.65" fill="#0000e0" stroke="none" stroke-width="1"/>
<circle cx="442.94" cy="300.01" r="1.65" fill="#0000e0" stroke="none" stroke-width="1"/>
<circle cx="447.42" cy="300.01" r="1.65" fill="#0000e0" stroke="none" stroke-width="1"/>
<circle cx="451.9" cy="305.59" r="1.65" fill="#0000e0" stroke="none" stroke-width="1"/>
<polygon points="317.5,236.33 319.4,239.75 315.6,239.75" fill="#0000e0" stroke="none" stroke-width="1" stroke-linejoin="miter"/>
<polygon points="321.98,239.94 323.88,243.36 320.08,243.36" fill="#0000e0" stroke="none" stroke-width="1" stroke-linejoin="miter"/>
<polygon points="326.46,245.07 328.36,248.49 324.56,248.49" fill="#0000e0" stroke="none" stroke-width="1" stroke-linejoin="miter"/>
<polygon points="330.94,249.59 332.84,253.01 329.04,253.01" fill="#0000e0" stroke="none" stroke-width="1" stroke-linejoin="miter"/>
<polygon points="335.42,250.34 337.32,253.76 333.52,253.76" fill="#0000e0" stroke="none" stroke-width="1" stroke-linejoin="miter"/>
<polygon points="339.9,252.75 341.8,256.17 338,256.17" fill="#0000e0" stroke="none" stroke-width="1" stroke-linejoin="miter"/>
<polygon points="344.38,254.11 346.28,257.53 342.48,257.53" fill="#0000e0" stroke="none" stroke-width="1" stroke-linejoin="miter"/>
<polygon points="348.86,253.36 350.76,256.78 346.96,256.78" fill="#0000e0" stroke="none" stroke-width="1" stroke-linejoin="miter"/>
<polygon points="353.34,254.11 355.24,257.53 351.44,257.53" fill="#0000e0" stroke="none" stroke-width="1" stroke-linejoin="miter"/>
<polygon points="357.82,254.11 359.72,257.53 355.92,257.53" fill="#0000e0" stroke="none" stroke-width="1" stroke-linejoin="miter"/>
<polygon points="362.3,256.07 364.2,259.49 360.4,259.49" fill="#0000e0" stroke="none" stroke-width="1" stroke-linejoin="miter"/>
<polygon points="366.78,260.59 368.68,264.01 364.88,264.01" fill="#0000e0" stroke="none" stroke-width="1" stroke-linejoin="miter"/>
<polygon points="371.26,263.15 373.16,266.57 369.36,266.57" fill="#0000e0" stroke="none" stroke-width="1" stroke-linejoin="miter"/>
<polygon points="375.74,265.41 377.64,268.83 373.84,268.83" fill="#0000e0" stroke="none" stroke-width="1" stroke-linejoin="miter"/>
<polygon points="380.22,269.18 382.12,272.6 378.32,272.6" fill="#0000e0" stroke="none" stroke-width="1" stroke-linejoin="miter"/>
<polygon points="384.7,272.19 386.6,275.61 382.8,275.61" fill="#0000e0" stroke="none" stroke-width="1" stroke-linejoin="miter"/>
<polygon points="389.18,273.7 391.08,277.12 387.28,277.12" fill="#0000e0" stroke="none" stroke-width="1" stroke-linejoin="miter"/>
<polygon points="393.66,275.96 395.56,279.38 391.76,279.38" fill="#0000e0" stroke="none" stroke-width="1" stroke-linejoin="miter"/>
<polygon points="398.14,276.87 400.04,280.29 396.24,280.29" fill="#0000e0" stroke="none" stroke-width="1" stroke-linejoin="miter"/>
<polygon points="402.62,278.82 404.52,282.24 400.72,282.24" fill="#0000e0" stroke="none" stroke-width="1" stroke-linejoin="miter"/>
<polygon points="407.1,279.73 409,283.15 405.2,283.15" fill="#0000e0" stroke="none" stroke-width="1" stroke-linejoin="miter"/>
<polygon points="411.58,280.63 413.48,284.05 409.68,284.05" fill="#0000e0" stroke="none" stroke-width="1" stroke-linejoin="miter"/>
<polygon points="416.06,282.44 417.96,285.86 414.16,285.86" fill="#0000e0" stroke="none" stroke-width="1" stroke-linejoin="miter"/>
<polygon points="420.54,284.4 422.44,287.82 418.64,287.82" fill="#0000e0" stroke="none" stroke-width="1" stroke-linejoin="miter"/>
<polygon points="425.02,285.3 426.92,288.72 423.12,288.72" fill="#0000e0" stroke="none" stroke-width="1" stroke-linejoin="miter"/>
<polygon points="429.5,287.26 431.4,290.68 427.6,290.68" fill="#0000e0" stroke="none" stroke-width="1" stroke-linejoin="miter"/>
<polygon points="433.98,289.07 435.88,292.49 432.08,292.49" fill="#0000e0" stroke="none" stroke-width="1" stroke-linejoin="miter"/>
<polygon points="438.46,292.84 440.36,296.26 436.56,296.26" fill="#0000e0" stroke="none" stroke-width="1" stroke-linejoin="miter"/>
<polygon points="442.94,298.11 444.84,301.53 441.04,301.53" fill="#0000e0" stroke="none" stroke-width="1" stroke-linejoin="miter"/>
<polygon points="447.42,298.11 449.32,301.53 445.52,301.53" fill="#0000e0" stroke="none" stroke-width="1" stroke-linejoin="miter"/>
<polygon points="451.9,303.69 453.8,307.11 450,307.11" fill="#0000e0" stroke="none" stroke-width="1" stroke-linejoin="miter"/>
<polygon points="317.5,240.13 319.4,236.71 315.6,236.71" fill="#0000e0" stroke="none" stroke-width="1" stroke-linejoin="miter"/>
<polygon points="321.98,247.51 323.88,244.09 320.08,244.09" fill="#0000e0" stroke="none" stroke-width="1" stroke-linejoin="miter"/>
<polygon points="326.46,254.14 328.36,250.72 324.56,250.72" fill="#0000e0" stroke="none" stroke-width="1" stroke-linejoin="miter"/>
<polygon points="330.94,253.84 332.84,250.42 329.04,250.42" fill="#0000e0" stroke="none" stroke-width="1" stroke-linejoin="miter"/>
<polygon points="335.42,254.14 337.32,250.72 333.52,250.72" fill="#0000e0" stroke="none" stroke-width="1" stroke-linejoin="miter"/>
<polygon points="339.9,256.55 341.8,253.13 338,253.13" fill="#0000e0" stroke="none" stroke-width="1" stroke-linejoin="miter"/>
<polygon points="344.38,263.94 346.28,260.52 342.48,260.52" fill="#0000e0" stroke="none" stroke-width="1" stroke-linejoin="miter"/>
<polygon points="348.86,265.9 350.76,262.48 346.96,262.48" fill="#0000e0" stroke="none" stroke-width="1" stroke-linejoin="miter"/>
<polygon points="353.34,267.7 355.24,264.29 351.44,264.29" fill="#0000e0" stroke="none" stroke-width="1" stroke-linejoin="miter"/>
<polygon points="357.82,269.97 359.72,266.55 355.92,266.55" fill="#0000e0" stroke="none" stroke-width="1" stroke-linejoin="miter"/>
<polygon points="362.3,272.23 364.2,268.81 360.4,268.81" fill="#0000e0" stroke="none" stroke-width="1" stroke-linejoin="miter"/>
<polygon points="366.78,274.49 368.68,271.07 364.88,271.07" fill="#0000e0" stroke="none" stroke-width="1" stroke-linejoin="miter"/>
<polygon points="371.26,276.29 373.16,272.87 369.36,272.87" fill="#0000e0" stroke="none" stroke-width="1" stroke-linejoin="miter"/>
<polygon points="375.74,278.71 377.64,275.29 373.84,275.29" fill="#0000e0" stroke="none" stroke-width="1" stroke-linejoin="miter"/>
<polygon points="380.22,282.02 382.12,278.6 378.32,278.6" fill="#0000e0" stroke="none" stroke-width="1" stroke-linejoin="miter"/>
<polygon points="384.7,285.79 386.6,282.37 382.8,282.37" fill="#0000e0" stroke="none" stroke-width="1" stroke-linejoin="miter"/>
<polygon points="389.18,289.56 391.08,286.14 387.28,286.14" fill="#0000e0" stroke="none" stroke-width="1" stroke-linejoin="miter"/>
<polygon points="393.66,293.78 395.56,290.36 391.76,290.36" fill="#0000e0" stroke="none" stroke-width="1" stroke-linejoin="miter"/>
<polygon points="398.14,296.64 400.04,293.22 396.24,293.22" fill="#0000e0" stroke="none" stroke-width="1" stroke-linejoin="miter"/>
<polygon points="402.62,299.5 404.52,296.08 400.72,296.08" fill="#0000e0" stroke="none" stroke-width="1" stroke-linejoin="miter"/>
<polygon points="407.1,302.37 409,298.95 405.2,298.95" fill="#0000e0" stroke="none" stroke-width="1" stroke-linejoin="miter"/>
<polygon points="411.58,305.98 413.48,302.56 409.68,302.56" fill="#0000e0" stroke="none" stroke-width="1" stroke-linejoin="miter"/>
<polygon points="416.06,309.75 417.96,306.33 414.16,306.33" fill="#0000e0" stroke="none" stroke-width="1" stroke-linejoin="miter"/>
<polygon points="420.54,313.52 422.44,310.1 418.64,310.1" fill="#0000e0" stroke="none" stroke-width="1" stroke-linejoin="miter"/>
<polygon points="425.02,316.38 426.92,312.96 423.12,312.96" fill="#0000e0" stroke="none" stroke-width="1" stroke-linejoin="miter"/>
<polygon points="429.5,320.15 431.4,316.73 427.6,316.73" fill="#0000e0" stroke="none" stroke-width="1" stroke-linejoin="miter"/>
<polygon points="433.98,321.96 435.88,318.54 432.08,318.54" fill="#0000e0" stroke="none" stroke-width="1" stroke-linejoin="miter"/>
<polygon points="438.46,323.92 440.36,320.5 436.56,320.5" fill="#0000e0" stroke="none" stroke-width="1" stroke-linejoin="miter"/>
<polygon points="442.94,325.72 444.84,322.3 441.04,322.3" fill="#0000e0" stroke="none" stroke-width="1" stroke-linejoin="miter"/>
<polygon points="447.42,328.59 449.32,325.17 445.52,325.17" fill="#0000e0" stroke="none" stroke-width="1" stroke-linejoin="miter"/>
<polygon points="451.9,332.96 453.8,329.54 450,329.54" fill="#0000e0" stroke="none" stroke-width="1" stroke-linejoin="miter"/>
<line x1="315.9" y1="310.4" x2="329.5" y2="310.4" stroke="#333" stroke-width="1.5"/>
<circle cx="322.9" cy="310.4" r="1.8" fill="#000" stroke="none" stroke-width="1"/>
<text x="331.3" y="312.4" font-family="Liberation Serif" font-size="6.2" font-weight="normal" font-style="normal" text-anchor="start" fill="#555" stroke="#555" stroke-width="0.22" textLength="38.2" lengthAdjust="spacingAndGlyphs">No crab control</text>
<line x1="315.9" y1="317.9" x2="329.5" y2="317.9" stroke="#5858dc" stroke-width="1.5"/>
<circle cx="322.9" cy="317.9" r="1.8" fill="#0000e0" stroke="none" stroke-width="1"/>
<text x="331.3" y="319.9" font-family="Liberation Serif" font-size="6.2" font-weight="normal" font-style="normal" text-anchor="start" fill="#555" stroke="#555" stroke-width="0.22" textLength="19.6" lengthAdjust="spacingAndGlyphs">xtcrab-1</text>
<line x1="315.9" y1="325.2" x2="329.5" y2="325.2" stroke="#5858dc" stroke-width="1.5"/>
<polygon points="322.9,323.4 324.7,326.64 321.1,326.64" fill="#0000e0" stroke="none" stroke-width="1" stroke-linejoin="miter"/>
<text x="331.3" y="327.2" font-family="Liberation Serif" font-size="6.2" font-weight="normal" font-style="normal" text-anchor="start" fill="#555" stroke="#555" stroke-width="0.22" textLength="19.6" lengthAdjust="spacingAndGlyphs">xtcrab-2</text>
<line x1="315.9" y1="332.8" x2="329.5" y2="332.8" stroke="#5858dc" stroke-width="1.5"/>
<polygon points="322.9,334.6 324.7,331.36 321.1,331.36" fill="#0000e0" stroke="none" stroke-width="1" stroke-linejoin="miter"/>
<text x="331.3" y="334.8" font-family="Liberation Serif" font-size="6.2" font-weight="normal" font-style="normal" text-anchor="start" fill="#555" stroke="#555" stroke-width="0.22" textLength="19.6" lengthAdjust="spacingAndGlyphs">xtcrab-3</text>
<text transform="translate(295.3,291.9) rotate(-90)" font-family="Liberation Serif" font-size="9.3" fill="#333" stroke="#333" stroke-width="0.15" text-anchor="middle">Water O<tspan font-size="6" dy="2.2">2</tspan><tspan dy="-2.2"> content (mg/L)</tspan></text>
<rect x="359.4" y="205.6" width="44.5" height="17.8" fill="#fff" stroke="#3a3a3a" stroke-width="1.3"/>
<text x="368.4" y="218.5" font-family="Liberation Serif" font-size="11.75" font-weight="normal" font-style="normal" text-anchor="start" fill="#222" textLength="26.1" lengthAdjust="spacingAndGlyphs">0 ppb</text>
<line x1="515.1" y1="228.2" x2="515.1" y2="342.8" stroke="#333" stroke-width="1.2"/>
<line x1="514.5" y1="342.3" x2="670.2" y2="342.3" stroke="#222" stroke-width="1.2"/>
<line x1="515.1" y1="334.2" x2="517.1" y2="334.2" stroke="#3c3c3c" stroke-width="0.8"/>
<text x="511.1" y="336" font-family="Liberation Serif" font-size="5.2" font-weight="normal" font-style="normal" text-anchor="end" fill="#666" stroke="#666" stroke-width="0.22">2</text>
<line x1="515.1" y1="319.1" x2="517.1" y2="319.1" stroke="#3c3c3c" stroke-width="0.8"/>
<text x="511.1" y="320.9" font-family="Liberation Serif" font-size="5.2" font-weight="normal" font-style="normal" text-anchor="end" fill="#666" stroke="#666" stroke-width="0.22">3</text>
<line x1="515.1" y1="304" x2="517.1" y2="304" stroke="#3c3c3c" stroke-width="0.8"/>
<text x="511.1" y="305.8" font-family="Liberation Serif" font-size="5.2" font-weight="normal" font-style="normal" text-anchor="end" fill="#666" stroke="#666" stroke-width="0.22">4</text>
<line x1="515.1" y1="288.9" x2="517.1" y2="288.9" stroke="#3c3c3c" stroke-width="0.8"/>
<text x="511.1" y="290.7" font-family="Liberation Serif" font-size="5.2" font-weight="normal" font-style="normal" text-anchor="end" fill="#666" stroke="#666" stroke-width="0.22">5</text>
<line x1="515.1" y1="273.8" x2="517.1" y2="273.8" stroke="#3c3c3c" stroke-width="0.8"/>
<text x="511.1" y="275.6" font-family="Liberation Serif" font-size="5.2" font-weight="normal" font-style="normal" text-anchor="end" fill="#666" stroke="#666" stroke-width="0.22">6</text>
<line x1="515.1" y1="258.7" x2="517.1" y2="258.7" stroke="#3c3c3c" stroke-width="0.8"/>
<text x="511.1" y="260.5" font-family="Liberation Serif" font-size="5.2" font-weight="normal" font-style="normal" text-anchor="end" fill="#666" stroke="#666" stroke-width="0.22">7</text>
<line x1="515.1" y1="243.6" x2="517.1" y2="243.6" stroke="#3c3c3c" stroke-width="0.8"/>
<text x="511.1" y="245.4" font-family="Liberation Serif" font-size="5.2" font-weight="normal" font-style="normal" text-anchor="end" fill="#666" stroke="#666" stroke-width="0.22">8</text>
<line x1="515.1" y1="228.5" x2="517.1" y2="228.5" stroke="#3c3c3c" stroke-width="0.8"/>
<text x="511.1" y="230.3" font-family="Liberation Serif" font-size="5.2" font-weight="normal" font-style="normal" text-anchor="end" fill="#666" stroke="#666" stroke-width="0.22">9</text>
<text x="525.3" y="349.5" font-family="Liberation Serif" font-size="5.2" font-weight="normal" font-style="normal" text-anchor="middle" fill="#666" stroke="#666" stroke-width="0.22">0</text>
<text x="547.4" y="349.5" font-family="Liberation Serif" font-size="5.2" font-weight="normal" font-style="normal" text-anchor="middle" fill="#666" stroke="#666" stroke-width="0.22">5</text>
<text x="569.5" y="349.5" font-family="Liberation Serif" font-size="5.2" font-weight="normal" font-style="normal" text-anchor="middle" fill="#666" stroke="#666" stroke-width="0.22">10</text>
<text x="591.6" y="349.5" font-family="Liberation Serif" font-size="5.2" font-weight="normal" font-style="normal" text-anchor="middle" fill="#666" stroke="#666" stroke-width="0.22">15</text>
<text x="613.7" y="349.5" font-family="Liberation Serif" font-size="5.2" font-weight="normal" font-style="normal" text-anchor="middle" fill="#666" stroke="#666" stroke-width="0.22">20</text>
<text x="635.8" y="349.5" font-family="Liberation Serif" font-size="5.2" font-weight="normal" font-style="normal" text-anchor="middle" fill="#666" stroke="#666" stroke-width="0.22">25</text>
<text x="657.9" y="349.5" font-family="Liberation Serif" font-size="5.2" font-weight="normal" font-style="normal" text-anchor="middle" fill="#666" stroke="#666" stroke-width="0.22">30</text>
<text x="576.3" y="360.6" font-family="Liberation Serif" font-size="7.6" font-weight="normal" font-style="normal" text-anchor="start" fill="#333" stroke="#333" stroke-width="0.22" textLength="32.1" lengthAdjust="spacingAndGlyphs">Time (min)</text>
<polyline points="525.3,239.67 529.72,239.52 534.14,239.98 538.56,239.67 542.98,239.52 547.4,239.67 551.82,239.82 556.24,239.67 560.66,239.67 565.08,239.52 569.5,239.67 573.92,239.82 578.34,239.67 582.76,239.67 587.18,239.52 591.6,239.67 596.02,239.67 600.44,239.67 604.86,239.67 609.28,238.77 613.7,241.18 618.12,239.37 622.54,239.67 626.96,239.52 631.38,239.67 635.8,239.37 640.22,240.13 644.64,239.67 649.06,239.98 653.48,239.67 657.9,239.67" fill="none" stroke="#000" stroke-width="0.8" stroke-linejoin="round"/>
<polyline points="525.3,241.79 529.72,242.84 534.14,243.6 538.56,243.9 542.98,244.35 547.4,245.41 551.82,246.32 556.24,247.38 560.66,248.43 565.08,245.87 569.5,248.43 573.92,249.34 578.34,249.94 582.76,250.24 587.18,250.55 591.6,251.15 596.02,251.91 600.44,252.96 604.86,253.26 609.28,256.44 613.7,255.83 618.12,255.83 622.54,257.64 626.96,256.44 631.38,258.4 635.8,259 640.22,259 644.64,258.7 649.06,259 653.48,259 657.9,259.45" fill="none" stroke="#0000e0" stroke-width="0.8" stroke-linejoin="round"/>
<polyline points="525.3,243.9 529.72,243.9 534.14,245.11 538.56,245.41 542.98,245.87 547.4,248.13 551.82,248.88 556.24,250.4 560.66,251.15 565.08,252.36 569.5,252.96 573.92,253.87 578.34,254.92 582.76,255.68 587.18,257.19 591.6,257.94 596.02,260.51 600.44,260.81 604.86,262.32 609.28,263.83 613.7,264.74 618.12,265.5 622.54,267.16 626.96,267.16 631.38,268.36 635.8,269.27 640.22,270.18 644.64,270.78 649.06,271.53 653.48,273.5 657.9,275.31" fill="none" stroke="#0000e0" stroke-width="0.8" stroke-linejoin="round"/>
<polyline points="525.3,234.24 529.72,237.86 534.14,242.09 538.56,242.84 542.98,243.6 547.4,246.32 551.82,247.38 556.24,248.88 560.66,250.24 565.08,251.45 569.5,251.91 573.92,252.96 578.34,254.17 582.76,254.92 587.18,255.68 591.6,256.44 596.02,258.7 600.44,259.3 604.86,260.51 609.28,262.02 613.7,262.63 618.12,263.23 622.54,265.04 626.96,264.74 631.38,266.25 635.8,267.16 640.22,268.06 644.64,268.67 649.06,269.27 653.48,270.78 657.9,272.29" fill="none" stroke="#0000e0" stroke-width="0.8" stroke-linejoin="round"/>
<rect x="523.85" y="238.22" width="2.9" height="2.9" fill="#000" stroke="none" stroke-width="1"/>
<rect x="528.27" y="238.07" width="2.9" height="2.9" fill="#000" stroke="none" stroke-width="1"/>
<rect x="532.69" y="238.53" width="2.9" height="2.9" fill="#000" stroke="none" stroke-width="1"/>
<rect x="537.11" y="238.22" width="2.9" height="2.9" fill="#000" stroke="none" stroke-width="1"/>
<rect x="541.53" y="238.07" width="2.9" height="2.9" fill="#000" stroke="none" stroke-width="1"/>
<rect x="545.95" y="238.22" width="2.9" height="2.9" fill="#000" stroke="none" stroke-width="1"/>
<rect x="550.37" y="238.38" width="2.9" height="2.9" fill="#000" stroke="none" stroke-width="1"/>
<rect x="554.79" y="238.22" width="2.9" height="2.9" fill="#000" stroke="none" stroke-width="1"/>
<rect x="559.21" y="238.22" width="2.9" height="2.9" fill="#000" stroke="none" stroke-width="1"/>
<rect x="563.63" y="238.07" width="2.9" height="2.9" fill="#000" stroke="none" stroke-width="1"/>
<rect x="568.05" y="238.22" width="2.9" height="2.9" fill="#000" stroke="none" stroke-width="1"/>
<rect x="572.47" y="238.38" width="2.9" height="2.9" fill="#000" stroke="none" stroke-width="1"/>
<rect x="576.89" y="238.22" width="2.9" height="2.9" fill="#000" stroke="none" stroke-width="1"/>
<rect x="581.31" y="238.22" width="2.9" height="2.9" fill="#000" stroke="none" stroke-width="1"/>
<rect x="585.73" y="238.07" width="2.9" height="2.9" fill="#000" stroke="none" stroke-width="1"/>
<rect x="590.15" y="238.22" width="2.9" height="2.9" fill="#000" stroke="none" stroke-width="1"/>
<rect x="594.57" y="238.22" width="2.9" height="2.9" fill="#000" stroke="none" stroke-width="1"/>
<rect x="598.99" y="238.22" width="2.9" height="2.9" fill="#000" stroke="none" stroke-width="1"/>
<rect x="603.41" y="238.22" width="2.9" height="2.9" fill="#000" stroke="none" stroke-width="1"/>
<rect x="607.83" y="237.32" width="2.9" height="2.9" fill="#000" stroke="none" stroke-width="1"/>
<rect x="612.25" y="239.73" width="2.9" height="2.9" fill="#000" stroke="none" stroke-width="1"/>
<rect x="616.67" y="237.92" width="2.9" height="2.9" fill="#000" stroke="none" stroke-width="1"/>
<rect x="621.09" y="238.22" width="2.9" height="2.9" fill="#000" stroke="none" stroke-width="1"/>
<rect x="625.51" y="238.07" width="2.9" height="2.9" fill="#000" stroke="none" stroke-width="1"/>
<rect x="629.93" y="238.22" width="2.9" height="2.9" fill="#000" stroke="none" stroke-width="1"/>
<rect x="634.35" y="237.92" width="2.9" height="2.9" fill="#000" stroke="none" stroke-width="1"/>
<rect x="638.77" y="238.68" width="2.9" height="2.9" fill="#000" stroke="none" stroke-width="1"/>
<rect x="643.19" y="238.22" width="2.9" height="2.9" fill="#000" stroke="none" stroke-width="1"/>
<rect x="647.61" y="238.53" width="2.9" height="2.9" fill="#000" stroke="none" stroke-width="1"/>
<rect x="652.03" y="238.22" width="2.9" height="2.9" fill="#000" stroke="none" stroke-width="1"/>
<rect x="656.45" y="238.22" width="2.9" height="2.9" fill="#000" stroke="none" stroke-width="1"/>
<circle cx="525.3" cy="241.79" r="1.65" fill="#0000e0" stroke="none" stroke-width="1"/>
<circle cx="529.72" cy="242.84" r="1.65" fill="#0000e0" stroke="none" stroke-width="1"/>
<circle cx="534.14" cy="243.6" r="1.65" fill="#0000e0" stroke="none" stroke-width="1"/>
<circle cx="538.56" cy="243.9" r="1.65" fill="#0000e0" stroke="none" stroke-width="1"/>
<circle cx="542.98" cy="244.35" r="1.65" fill="#0000e0" stroke="none" stroke-width="1"/>
<circle cx="547.4" cy="245.41" r="1.65" fill="#0000e0" stroke="none" stroke-width="1"/>
<circle cx="551.82" cy="246.32" r="1.65" fill="#0000e0" stroke="none" stroke-width="1"/>
<circle cx="556.24" cy="247.38" r="1.65" fill="#0000e0" stroke="none" stroke-width="1"/>
<circle cx="560.66" cy="248.43" r="1.65" fill="#0000e0" stroke="none" stroke-width="1"/>
<circle cx="565.08" cy="245.87" r="1.65" fill="#0000e0" stroke="none" stroke-width="1"/>
<circle cx="569.5" cy="248.43" r="1.65" fill="#0000e0" stroke="none" stroke-width="1"/>
<circle cx="573.92" cy="249.34" r="1.65" fill="#0000e0" stroke="none" stroke-width="1"/>
<circle cx="578.34" cy="249.94" r="1.65" fill="#0000e0" stroke="none" stroke-width="1"/>
<circle cx="582.76" cy="250.24" r="1.65" fill="#0000e0" stroke="none" stroke-width="1"/>
<circle cx="587.18" cy="250.55" r="1.65" fill="#0000e0" stroke="none" stroke-width="1"/>
<circle cx="591.6" cy="251.15" r="1.65" fill="#0000e0" stroke="none" stroke-width="1"/>
<circle cx="596.02" cy="251.91" r="1.65" fill="#0000e0" stroke="none" stroke-width="1"/>
<circle cx="600.44" cy="252.96" r="1.65" fill="#0000e0" stroke="none" stroke-width="1"/>
<circle cx="604.86" cy="253.26" r="1.65" fill="#0000e0" stroke="none" stroke-width="1"/>
<circle cx="609.28" cy="256.44" r="1.65" fill="#0000e0" stroke="none" stroke-width="1"/>
<circle cx="613.7" cy="255.83" r="1.65" fill="#0000e0" stroke="none" stroke-width="1"/>
<circle cx="618.12" cy="255.83" r="1.65" fill="#0000e0" stroke="none" stroke-width="1"/>
<circle cx="622.54" cy="257.64" r="1.65" fill="#0000e0" stroke="none" stroke-width="1"/>
<circle cx="626.96" cy="256.44" r="1.65" fill="#0000e0" stroke="none" stroke-width="1"/>
<circle cx="631.38" cy="258.4" r="1.65" fill="#0000e0" stroke="none" stroke-width="1"/>
<circle cx="635.8" cy="259" r="1.65" fill="#0000e0" stroke="none" stroke-width="1"/>
<circle cx="640.22" cy="259" r="1.65" fill="#0000e0" stroke="none" stroke-width="1"/>
<circle cx="644.64" cy="258.7" r="1.65" fill="#0000e0" stroke="none" stroke-width="1"/>
<circle cx="649.06" cy="259" r="1.65" fill="#0000e0" stroke="none" stroke-width="1"/>
<circle cx="653.48" cy="259" r="1.65" fill="#0000e0" stroke="none" stroke-width="1"/>
<circle cx="657.9" cy="259.45" r="1.65" fill="#0000e0" stroke="none" stroke-width="1"/>
<polygon points="525.3,242 527.2,245.42 523.4,245.42" fill="#0000e0" stroke="none" stroke-width="1" stroke-linejoin="miter"/>
<polygon points="529.72,242 531.62,245.42 527.82,245.42" fill="#0000e0" stroke="none" stroke-width="1" stroke-linejoin="miter"/>
<polygon points="534.14,243.21 536.04,246.63 532.24,246.63" fill="#0000e0" stroke="none" stroke-width="1" stroke-linejoin="miter"/>
<polygon points="538.56,243.51 540.46,246.93 536.66,246.93" fill="#0000e0" stroke="none" stroke-width="1" stroke-linejoin="miter"/>
<polygon points="542.98,243.97 544.88,247.39 541.08,247.39" fill="#0000e0" stroke="none" stroke-width="1" stroke-linejoin="miter"/>
<polygon points="547.4,246.23 549.3,249.65 545.5,249.65" fill="#0000e0" stroke="none" stroke-width="1" stroke-linejoin="miter"/>
<polygon points="551.82,246.98 553.72,250.41 549.92,250.41" fill="#0000e0" stroke="none" stroke-width="1" stroke-linejoin="miter"/>
<polygon points="556.24,248.5 558.14,251.92 554.34,251.92" fill="#0000e0" stroke="none" stroke-width="1" stroke-linejoin="miter"/>
<polygon points="560.66,249.25 562.56,252.67 558.76,252.67" fill="#0000e0" stroke="none" stroke-width="1" stroke-linejoin="miter"/>
<polygon points="565.08,250.46 566.98,253.88 563.18,253.88" fill="#0000e0" stroke="none" stroke-width="1" stroke-linejoin="miter"/>
<polygon points="569.5,251.06 571.4,254.48 567.6,254.48" fill="#0000e0" stroke="none" stroke-width="1" stroke-linejoin="miter"/>
<polygon points="573.92,251.97 575.82,255.39 572.02,255.39" fill="#0000e0" stroke="none" stroke-width="1" stroke-linejoin="miter"/>
<polygon points="578.34,253.02 580.24,256.44 576.44,256.44" fill="#0000e0" stroke="none" stroke-width="1" stroke-linejoin="miter"/>
<polygon points="582.76,253.78 584.66,257.2 580.86,257.2" fill="#0000e0" stroke="none" stroke-width="1" stroke-linejoin="miter"/>
<polygon points="587.18,255.29 589.08,258.71 585.28,258.71" fill="#0000e0" stroke="none" stroke-width="1" stroke-linejoin="miter"/>
<polygon points="591.6,256.05 593.5,259.46 589.7,259.46" fill="#0000e0" stroke="none" stroke-width="1" stroke-linejoin="miter"/>
<polygon points="596.02,258.61 597.92,262.03 594.12,262.03" fill="#0000e0" stroke="none" stroke-width="1" stroke-linejoin="miter"/>
<polygon points="600.44,258.91 602.34,262.33 598.54,262.33" fill="#0000e0" stroke="none" stroke-width="1" stroke-linejoin="miter"/>
<polygon points="604.86,260.42 606.76,263.84 602.96,263.84" fill="#0000e0" stroke="none" stroke-width="1" stroke-linejoin="miter"/>
<polygon points="609.28,261.93 611.18,265.35 607.38,265.35" fill="#0000e0" stroke="none" stroke-width="1" stroke-linejoin="miter"/>
<polygon points="613.7,262.84 615.6,266.26 611.8,266.26" fill="#0000e0" stroke="none" stroke-width="1" stroke-linejoin="miter"/>
<polygon points="618.12,263.6 620.02,267.01 616.22,267.01" fill="#0000e0" stroke="none" stroke-width="1" stroke-linejoin="miter"/>
<polygon points="622.54,265.26 624.44,268.68 620.64,268.68" fill="#0000e0" stroke="none" stroke-width="1" stroke-linejoin="miter"/>
<polygon points="626.96,265.26 628.86,268.68 625.06,268.68" fill="#0000e0" stroke="none" stroke-width="1" stroke-linejoin="miter"/>
<polygon points="631.38,266.46 633.28,269.88 629.48,269.88" fill="#0000e0" stroke="none" stroke-width="1" stroke-linejoin="miter"/>
<polygon points="635.8,267.37 637.7,270.79 633.9,270.79" fill="#0000e0" stroke="none" stroke-width="1" stroke-linejoin="miter"/>
<polygon points="640.22,268.28 642.12,271.7 638.32,271.7" fill="#0000e0" stroke="none" stroke-width="1" stroke-linejoin="miter"/>
<polygon points="644.64,268.88 646.54,272.3 642.74,272.3" fill="#0000e0" stroke="none" stroke-width="1" stroke-linejoin="miter"/>
<polygon points="649.06,269.63 650.96,273.05 647.16,273.05" fill="#0000e0" stroke="none" stroke-width="1" stroke-linejoin="miter"/>
<polygon points="653.48,271.6 655.38,275.02 651.58,275.02" fill="#0000e0" stroke="none" stroke-width="1" stroke-linejoin="miter"/>
<polygon points="657.9,273.41 659.8,276.83 656,276.83" fill="#0000e0" stroke="none" stroke-width="1" stroke-linejoin="miter"/>
<polygon points="525.3,236.14 527.2,232.72 523.4,232.72" fill="#0000e0" stroke="none" stroke-width="1" stroke-linejoin="miter"/>
<polygon points="529.72,239.76 531.62,236.34 527.82,236.34" fill="#0000e0" stroke="none" stroke-width="1" stroke-linejoin="miter"/>
<polygon points="534.14,243.99 536.04,240.57 532.24,240.57" fill="#0000e0" stroke="none" stroke-width="1" stroke-linejoin="miter"/>
<polygon points="538.56,244.74 540.46,241.32 536.66,241.32" fill="#0000e0" stroke="none" stroke-width="1" stroke-linejoin="miter"/>
<polygon points="542.98,245.5 544.88,242.08 541.08,242.08" fill="#0000e0" stroke="none" stroke-width="1" stroke-linejoin="miter"/>
<polygon points="547.4,248.22 549.3,244.8 545.5,244.8" fill="#0000e0" stroke="none" stroke-width="1" stroke-linejoin="miter"/>
<polygon points="551.82,249.28 553.72,245.85 549.92,245.85" fill="#0000e0" stroke="none" stroke-width="1" stroke-linejoin="miter"/>
<polygon points="556.24,250.78 558.14,247.36 554.34,247.36" fill="#0000e0" stroke="none" stroke-width="1" stroke-linejoin="miter"/>
<polygon points="560.66,252.14 562.56,248.72 558.76,248.72" fill="#0000e0" stroke="none" stroke-width="1" stroke-linejoin="miter"/>
<polygon points="565.08,253.35 566.98,249.93 563.18,249.93" fill="#0000e0" stroke="none" stroke-width="1" stroke-linejoin="miter"/>
<polygon points="569.5,253.81 571.4,250.38 567.6,250.38" fill="#0000e0" stroke="none" stroke-width="1" stroke-linejoin="miter"/>
<polygon points="573.92,254.86 575.82,251.44 572.02,251.44" fill="#0000e0" stroke="none" stroke-width="1" stroke-linejoin="miter"/>
<polygon points="578.34,256.07 580.24,252.65 576.44,252.65" fill="#0000e0" stroke="none" stroke-width="1" stroke-linejoin="miter"/>
<polygon points="582.76,256.82 584.66,253.4 580.86,253.4" fill="#0000e0" stroke="none" stroke-width="1" stroke-linejoin="miter"/>
<polygon points="587.18,257.58 589.08,254.16 585.28,254.16" fill="#0000e0" stroke="none" stroke-width="1" stroke-linejoin="miter"/>
<polygon points="591.6,258.33 593.5,254.91 589.7,254.91" fill="#0000e0" stroke="none" stroke-width="1" stroke-linejoin="miter"/>
<polygon points="596.02,260.6 597.92,257.18 594.12,257.18" fill="#0000e0" stroke="none" stroke-width="1" stroke-linejoin="miter"/>
<polygon points="600.44,261.2 602.34,257.78 598.54,257.78" fill="#0000e0" stroke="none" stroke-width="1" stroke-linejoin="miter"/>
<polygon points="604.86,262.41 606.76,258.99 602.96,258.99" fill="#0000e0" stroke="none" stroke-width="1" stroke-linejoin="miter"/>
<polygon points="609.28,263.92 611.18,260.5 607.38,260.5" fill="#0000e0" stroke="none" stroke-width="1" stroke-linejoin="miter"/>
<polygon points="613.7,264.53 615.6,261.11 611.8,261.11" fill="#0000e0" stroke="none" stroke-width="1" stroke-linejoin="miter"/>
<polygon points="618.12,265.13 620.02,261.71 616.22,261.71" fill="#0000e0" stroke="none" stroke-width="1" stroke-linejoin="miter"/>
<polygon points="622.54,266.94 624.44,263.52 620.64,263.52" fill="#0000e0" stroke="none" stroke-width="1" stroke-linejoin="miter"/>
<polygon points="626.96,266.64 628.86,263.22 625.06,263.22" fill="#0000e0" stroke="none" stroke-width="1" stroke-linejoin="miter"/>
<polygon points="631.38,268.15 633.28,264.73 629.48,264.73" fill="#0000e0" stroke="none" stroke-width="1" stroke-linejoin="miter"/>
<polygon points="635.8,269.06 637.7,265.64 633.9,265.64" fill="#0000e0" stroke="none" stroke-width="1" stroke-linejoin="miter"/>
<polygon points="640.22,269.96 642.12,266.54 638.32,266.54" fill="#0000e0" stroke="none" stroke-width="1" stroke-linejoin="miter"/>
<polygon points="644.64,270.57 646.54,267.15 642.74,267.15" fill="#0000e0" stroke="none" stroke-width="1" stroke-linejoin="miter"/>
<polygon points="649.06,271.17 650.96,267.75 647.16,267.75" fill="#0000e0" stroke="none" stroke-width="1" stroke-linejoin="miter"/>
<polygon points="653.48,272.68 655.38,269.26 651.58,269.26" fill="#0000e0" stroke="none" stroke-width="1" stroke-linejoin="miter"/>
<polygon points="657.9,274.19 659.8,270.77 656,270.77" fill="#0000e0" stroke="none" stroke-width="1" stroke-linejoin="miter"/>
<line x1="521.8" y1="311.6" x2="536.3" y2="311.6" stroke="#333" stroke-width="1.5"/>
<circle cx="528.8" cy="311.6" r="1.8" fill="#000" stroke="none" stroke-width="1"/>
<text x="537.5" y="313.6" font-family="Liberation Serif" font-size="6.2" font-weight="normal" font-style="normal" text-anchor="start" fill="#555" stroke="#555" stroke-width="0.22" textLength="38.2" lengthAdjust="spacingAndGlyphs">No crab control</text>
<line x1="521.8" y1="318.9" x2="536.3" y2="318.9" stroke="#5858dc" stroke-width="1.5"/>
<circle cx="528.8" cy="318.9" r="1.8" fill="#0000e0" stroke="none" stroke-width="1"/>
<text x="537.5" y="320.9" font-family="Liberation Serif" font-size="6.2" font-weight="normal" font-style="italic" text-anchor="start" fill="#555" stroke="#555" stroke-width="0.22" textLength="19.6" lengthAdjust="spacingAndGlyphs">xtcrab-4</text>
<line x1="521.8" y1="326.4" x2="536.3" y2="326.4" stroke="#5858dc" stroke-width="1.5"/>
<polygon points="528.8,324.6 530.6,327.84 527,327.84" fill="#0000e0" stroke="none" stroke-width="1" stroke-linejoin="miter"/>
<text x="537.5" y="328.4" font-family="Liberation Serif" font-size="6.2" font-weight="normal" font-style="italic" text-anchor="start" fill="#555" stroke="#555" stroke-width="0.22" textLength="19.6" lengthAdjust="spacingAndGlyphs">xtcrab-5</text>
<line x1="521.8" y1="333.9" x2="536.3" y2="333.9" stroke="#5858dc" stroke-width="1.5"/>
<polygon points="528.8,335.7 530.6,332.46 527,332.46" fill="#0000e0" stroke="none" stroke-width="1" stroke-linejoin="miter"/>
<text x="537.5" y="335.9" font-family="Liberation Serif" font-size="6.2" font-weight="normal" font-style="italic" text-anchor="start" fill="#555" stroke="#555" stroke-width="0.22" textLength="19.6" lengthAdjust="spacingAndGlyphs">xtcrab-6</text>
<text transform="translate(502.8,291.4) rotate(-90)" font-family="Liberation Serif" font-size="9.0" fill="#333" stroke="#333" stroke-width="0.25" text-anchor="middle">Water O<tspan font-family="Liberation Sans">2</tspan> content (mg/L)</text>
<rect x="561.1" y="205.6" width="57.2" height="17.8" fill="#fff" stroke="#3a3a3a" stroke-width="1.3"/>
<text x="570.2" y="218.5" font-family="Liberation Serif" font-size="11.75" font-weight="normal" font-style="normal" text-anchor="start" fill="#222" textLength="37.9" lengthAdjust="spacingAndGlyphs">400 ppb</text>
</svg>
</body></html>
